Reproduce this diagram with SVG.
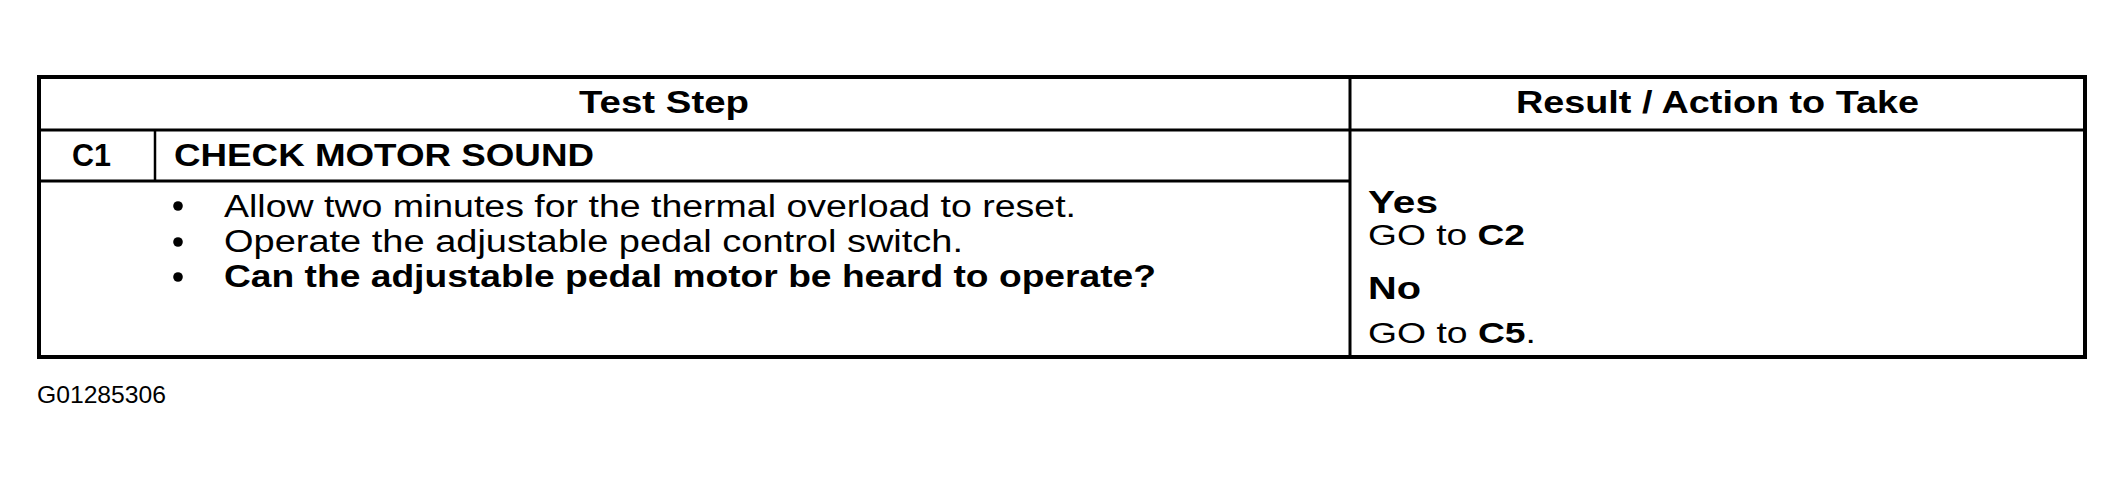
<svg xmlns="http://www.w3.org/2000/svg" width="2124" height="478" viewBox="0 0 2124 478">
<style>
text{font-family:"Liberation Sans",Arial,sans-serif;fill:#000}
.b{font-weight:bold}
.t{font-size:30px}
.tb{font-size:31px}
.h{font-size:31px;font-weight:bold}
.yn{font-size:32px;font-weight:bold}
.ln{stroke:#000;fill:none}
</style>
<rect width="2124" height="478" fill="#fff"/>
<g id="table">
<rect class="ln" x="39" y="77" width="2046" height="280" stroke-width="4"/>
<line class="ln" x1="1350" y1="77" x2="1350" y2="357" stroke-width="3"/>
<line class="ln" x1="39" y1="130" x2="2085" y2="130" stroke-width="3"/>
<line class="ln" x1="39" y1="181" x2="1350" y2="181" stroke-width="3"/>
<line class="ln" x1="155" y1="130" x2="155" y2="181" stroke-width="2.5"/>
</g>
<g id="header">
<text class="h" x="579" y="113" textLength="170" lengthAdjust="spacingAndGlyphs">Test Step</text>
<text class="h" x="1516" y="113" textLength="403" lengthAdjust="spacingAndGlyphs">Result / Action to Take</text>
</g>
<g id="step">
<text class="h" x="72" y="166" textLength="39" lengthAdjust="spacingAndGlyphs">C1</text>
<text class="h" x="174" y="166" textLength="420" lengthAdjust="spacingAndGlyphs">CHECK MOTOR SOUND</text>
</g>
<g id="bullets">
<circle cx="178" cy="206" r="4.8"/>
<circle cx="178" cy="242" r="4.8"/>
<circle cx="178" cy="277" r="4.8"/>
<text class="tb" x="224" y="217" textLength="852" lengthAdjust="spacingAndGlyphs">Allow two minutes for the thermal overload to reset.</text>
<text class="tb" x="224" y="252" textLength="739" lengthAdjust="spacingAndGlyphs">Operate the adjustable pedal control switch.</text>
<text class="tb b" x="224" y="287" textLength="932" lengthAdjust="spacingAndGlyphs">Can the adjustable pedal motor be heard to operate?</text>
</g>
<g id="result">
<text class="yn" x="1368" y="213" textLength="70" lengthAdjust="spacingAndGlyphs">Yes</text>
<text class="t" x="1368" y="245" textLength="157" lengthAdjust="spacingAndGlyphs">GO to <tspan class="b">C2</tspan></text>
<text class="yn" x="1368" y="299" textLength="53" lengthAdjust="spacingAndGlyphs">No</text>
<text class="t" x="1368" y="343" textLength="168" lengthAdjust="spacingAndGlyphs">GO to <tspan class="b">C5</tspan>.</text>
</g>
<g id="label">
<text x="37" y="403" style="font-size:24px" textLength="129" lengthAdjust="spacingAndGlyphs">G01285306</text>
</g>
</svg>
